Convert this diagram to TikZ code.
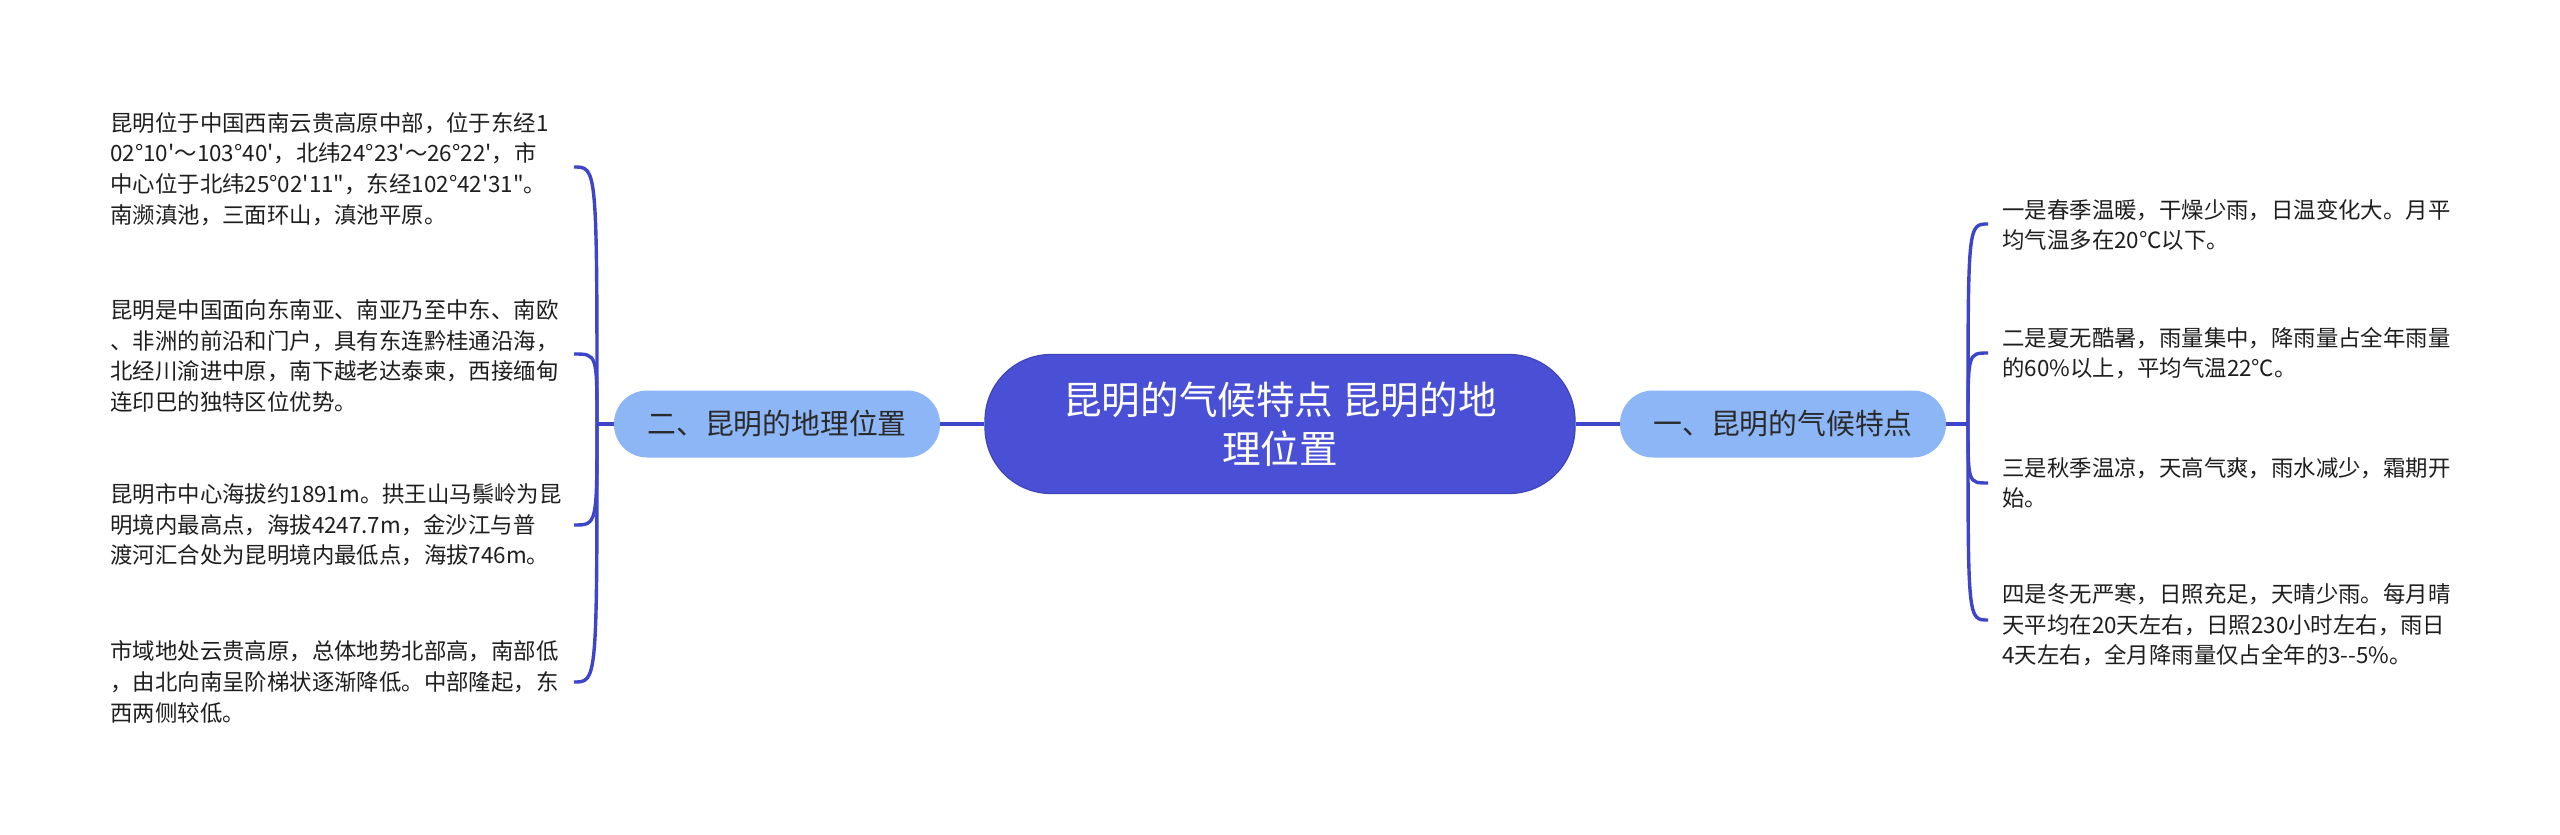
\documentclass[tikz,border=0pt]{standalone}
\usepackage{fontspec}
\setmainfont{Noto Sans CJK SC}[Ligatures=TeXOff]
\definecolor{rootfill}{HTML}{4A50D6}
\definecolor{subfill}{HTML}{8DB6F7}
\definecolor{edgecol}{HTML}{3D45C8}
\definecolor{txt}{HTML}{1E1E1E}
\definecolor{subtxt}{HTML}{2A2A2A}
\tikzset{
  rootbox/.style={fill=rootfill, draw=rootfill!85!black, line width=0.6pt, rounded corners=33pt,
    minimum width=295pt, minimum height=69.5pt, text=white, align=center, inner sep=0pt,
    font=\fontsize{19.3pt}{24.5pt}\selectfont},
  subbox/.style={fill=subfill, draw=none, rounded corners=16.5pt, minimum width=163pt,
    minimum height=33.5pt, text=subtxt, inner sep=0pt, font=\fontsize{14.4pt}{17pt}\selectfont},
  leaftext/.style={anchor=west, align=left, inner sep=0pt, text=txt,
    font=\fontsize{11.2pt}{15.3pt}\selectfont},
  conn/.style={draw=edgecol, line width=1.7pt}
}
\begin{document}
\begin{tikzpicture}[x=0.5pt,y=-0.5pt]
\useasboundingbox (0,0) rectangle (2560,835);
\fill[white] (0,0) rectangle (2560,835);

% junctions and leaf ends
\coordinate (lj) at (597,424);
\coordinate (rj) at (1968,424);
\coordinate (le1) at (574,167);
\coordinate (le2) at (574,354);
\coordinate (le3) at (574,525);
\coordinate (le4) at (574,682);
\coordinate (re1) at (1988,224);
\coordinate (re2) at (1988,353);
\coordinate (re3) at (1988,483);
\coordinate (re4) at (1988,620);

% connectors
\draw[conn] (lj) .. controls (lj |- le1) .. (le1);
\draw[conn] (lj) .. controls (lj |- le2) .. (le2);
\draw[conn] (lj) .. controls (lj |- le3) .. (le3);
\draw[conn] (lj) .. controls (lj |- le4) .. (le4);
\draw[conn] (rj) .. controls (rj |- re1) .. (re1);
\draw[conn] (rj) .. controls (rj |- re2) .. (re2);
\draw[conn] (rj) .. controls (rj |- re3) .. (re3);
\draw[conn] (rj) .. controls (rj |- re4) .. (re4);

% nodes
\node[rootbox] (root) at (1280,424) {昆明的气候特点 昆明的地\\理位置};
\node[subbox] (lsub) at (777,424) {二、昆明的地理位置};
\node[subbox] (rsub) at (1783,424) {一、昆明的气候特点};

\draw[conn] (root.west) -- (lsub.east);
\draw[conn] (root.east) -- (rsub.west);
\draw[conn] (lsub.west) -- (lj);
\draw[conn] (rsub.east) -- (rj);

% leaves left
\node[leaftext] (l1) at (110,169) {昆明位于中国西南云贵高原中部，位于东经1\\02°10'～103°40'，北纬24°23'～26°22'，市\\中心位于北纬25°02'11"，东经102°42'31"。\\南濒滇池，三面环山，滇池平原。};
\node[leaftext] (l2) at (110,356) {昆明是中国面向东南亚、南亚乃至中东、南欧\\、非洲的前沿和门户，具有东连黔桂通沿海，\\北经川渝进中原，南下越老达泰柬，西接缅甸\\连印巴的独特区位优势。};
\node[leaftext] (l3) at (110,525) {昆明市中心海拔约1891m。拱王山马鬃岭为昆\\明境内最高点，海拔4247.7m，金沙江与普\\渡河汇合处为昆明境内最低点，海拔746m。};
\node[leaftext] (l4) at (110,682) {市域地处云贵高原，总体地势北部高，南部低\\，由北向南呈阶梯状逐渐降低。中部隆起，东\\西两侧较低。};

% leaves right
\node[leaftext] (r1) at (2002,225) {一是春季温暖，干燥少雨，日温变化大。月平\\均气温多在20℃以下。};
\node[leaftext] (r2) at (2002,353) {二是夏无酷暑，雨量集中，降雨量占全年雨量\\的60\%以上，平均气温22℃。};
\node[leaftext] (r3) at (2002,483) {三是秋季温凉，天高气爽，雨水减少，霜期开\\始。};
\node[leaftext] (r4) at (2002,625) {四是冬无严寒，日照充足，天晴少雨。每月晴\\天平均在20天左右，日照230小时左右，雨日\\4天左右，全月降雨量仅占全年的3--5\%。};
\end{tikzpicture}
\end{document}
